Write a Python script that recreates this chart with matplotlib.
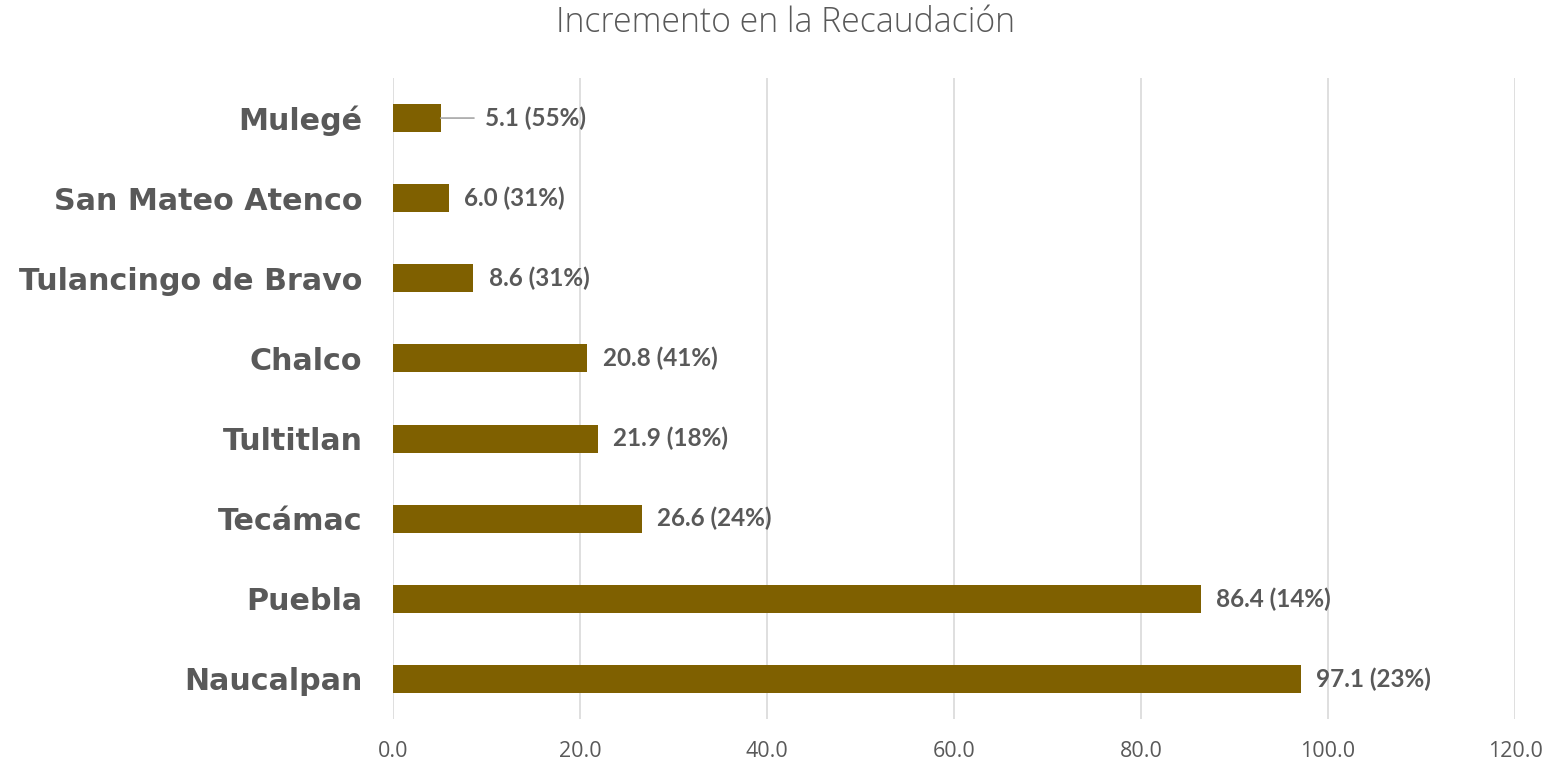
import matplotlib.pyplot as plt

municipios = ["Naucalpan", "Puebla", "Tecámac", "Tultitlan", "Chalco",
              "Tulancingo de Bravo", "San Mateo Atenco", "Mulegé"]
incremento = [97.1, 86.4, 26.6, 21.9, 20.8, 8.6, 6.0, 5.1]
porcentaje = [23, 14, 24, 18, 41, 31, 31, 55]
xticks = [0, 20, 40, 60, 80, 100, 120]

gris = "#595959"
cafe = "#7F6000"

fig = plt.figure(figsize=(15.49, 7.61), dpi=100)
ax = fig.add_axes([393/1549, 1-719/761, (1515-393)/1549, (719-78)/761])

ypos = range(len(municipios))
ax.barh(ypos, incremento, height=0.35, color=cafe, zorder=3)

ax.set_xlim(0, 120)
ax.set_ylim(-0.5, len(municipios) - 0.5)
ax.set_xticks(xticks)
ax.set_xticklabels(["%.1f" % t for t in xticks], fontsize=15.5, color=gris,
                   family="Open Sans")
ax.tick_params(axis="x", length=0, pad=16)
ax.set_yticks(list(ypos))
ax.set_yticklabels(municipios, fontsize=21.7, fontweight="bold", color=gris,
                   family="DejaVu Sans")
ax.tick_params(axis="y", length=0, pad=22)
ax.grid(axis="x", color="#D9D9D9", lw=1.2, zorder=0)
for s in ax.spines.values():
    s.set_visible(False)

# etiquetas de valor
for i, (v, p) in enumerate(zip(incremento, porcentaje)):
    txt = "%.1f (%d%%)" % (v, p)
    if municipios[i] == "Mulegé":
        # etiqueta desplazada con linea guia
        ax.annotate(txt, xy=(v, i), xytext=(9.85, i), va="center",
                    ha="left", fontsize=17.5, fontweight="bold", color=gris,
                    family="Lato",
                    arrowprops=dict(arrowstyle="-", color="#A6A6A6", lw=1.2,
                                    shrinkA=6, shrinkB=0))
    else:
        ax.annotate(txt, xy=(v, i), xytext=(11, 0), textcoords="offset points",
                    va="center", ha="left", fontsize=17.5, fontweight="bold",
                    color=gris, family="Lato")

fig.text(785/1549, 1-23/761, "Incremento en la Recaudación", ha="center",
         va="center", fontsize=24.3, color=gris, family="Open Sans",
         fontweight="light")

fig.savefig("out.png", dpi=100)
